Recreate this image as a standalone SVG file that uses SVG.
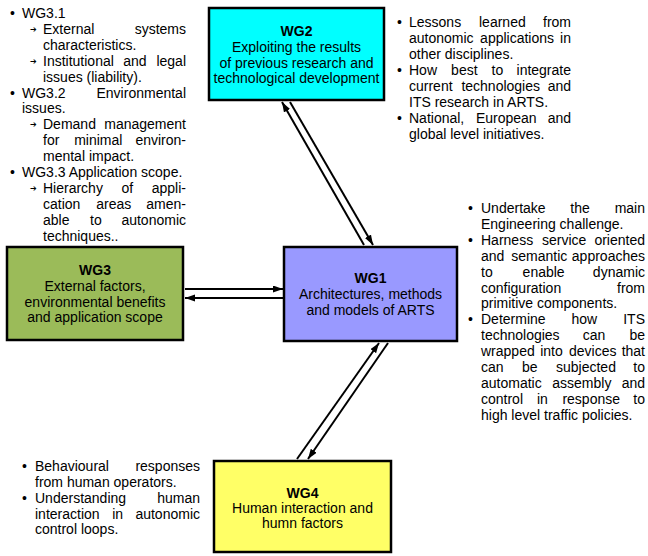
<svg xmlns="http://www.w3.org/2000/svg" width="648" height="556" viewBox="0 0 648 556">
<style>
text{font-family:"Liberation Sans",Arial,sans-serif;font-size:14px;fill:#000}
.r{text-anchor:end}
.c{text-anchor:middle}
.bd{font-weight:bold}
.ar{font-family:"DejaVu Sans",sans-serif;font-size:8px}
.box{stroke:#000;stroke-width:2.5}
.ln{stroke:#000;stroke-width:2;fill:none;marker-end:url(#ah)}
</style>
<defs>
<marker id="ah" markerUnits="userSpaceOnUse" markerWidth="11" markerHeight="8" refX="10" refY="3.5" orient="auto">
<path d="M0,0 L10,3.5 L0,7 z" fill="#000"/>
</marker>
</defs>
<rect width="648" height="556" fill="#fff"/>

<g id="connectors">
<line class="ln" x1="185" y1="289" x2="283" y2="289"/>
<line class="ln" x1="283" y1="298" x2="185" y2="298"/>
<line class="ln" x1="364" y1="245" x2="282" y2="102"/>
<line class="ln" x1="290" y1="102" x2="373" y2="245"/>
<line class="ln" x1="297" y1="459" x2="379" y2="343"/>
<line class="ln" x1="388" y1="343" x2="308" y2="459"/>
</g>

<g id="wg2">
<rect class="box" x="209" y="8" width="175" height="92" fill="#00FFFF"/>
<text class="c bd" x="296.5" y="36">WG2</text>
<text class="c" x="296.5" y="52">Exploiting the results</text>
<text class="c" x="296.5" y="67.5">of previous research and</text>
<text class="c" x="296.5" y="83">technological development</text>
</g>

<g id="wg1">
<rect class="box" x="284" y="247" width="173" height="94" fill="#9999FF"/>
<text class="c bd" x="370.5" y="282.5">WG1</text>
<text class="c" x="370.5" y="298.5">Architectures, methods</text>
<text class="c" x="370.5" y="314.5">and models of ARTS</text>
</g>

<g id="wg3">
<rect class="box" x="7" y="247" width="176" height="93" fill="#9BBB59"/>
<text class="c bd" x="95" y="275">WG3</text>
<text class="c" x="95" y="291">External factors,</text>
<text class="c" x="95" y="306.5">environmental benefits</text>
<text class="c" x="95" y="322">and application scope</text>
</g>

<g id="wg4">
<rect class="box" x="214" y="461" width="177" height="91" fill="#FFFF66"/>
<text class="c bd" x="302.5" y="498">WG4</text>
<text class="c" x="302.5" y="513">Human interaction and</text>
<text class="c" x="302.5" y="528">humn factors</text>
</g>

<g id="notes-wg3">
<text x="10" y="18">•</text><text x="22" y="18">WG3.1</text>
<text class="ar" x="30" y="32">➔</text><text x="43" y="33.9">External</text><text class="r" x="186" y="33.9">systems</text>
<text x="43" y="49.8">characteristics.</text>
<text class="ar" x="30" y="63.8">➔</text><text x="43" y="65.7">Institutional</text><text x="123.3" y="65.7">and</text><text class="r" x="186" y="65.7">legal</text>
<text x="43" y="81.6">issues (liability).</text>
<text x="10" y="97.5">•</text><text x="22" y="97.5">WG3.2</text><text class="r" x="186" y="97.5">Environmental</text>
<text x="22" y="113.4">issues.</text>
<text class="ar" x="30" y="127.4">➔</text><text x="43" y="129.3">Demand</text><text class="r" x="186" y="129.3">management</text>
<text x="43" y="145.2">for</text><text x="74.2" y="145.2">minimal</text><text class="r" x="186" y="145.2">environ-</text>
<text x="43" y="161.1">mental impact.</text>
<text x="10" y="177">•</text><text x="22" y="177">WG3.3 Application scope.</text>
<text class="ar" x="30" y="191">➔</text><text x="43" y="192.9">Hierarchy</text><text x="121.4" y="192.9">of</text><text class="r" x="186" y="192.9">appli-</text>
<text x="43" y="208.8">cation</text><text x="96.3" y="208.8">areas</text><text class="r" x="186" y="208.8">amen-</text>
<text x="43" y="224.7">able</text><text x="90.1" y="224.7">to</text><text class="r" x="186" y="224.7">autonomic</text>
<text x="43" y="240.6">techniques..</text>
</g>

<g id="notes-wg2">
<text x="397" y="27">•</text><text x="409" y="27">Lessons</text><text x="479" y="27">learned</text><text class="r" x="571" y="27">from</text>
<text x="409" y="43">autonomic</text><text x="480.1" y="43">applications</text><text class="r" x="571" y="43">in</text>
<text x="409" y="59">other disciplines.</text>
<text x="397" y="75">•</text><text x="409" y="75">How</text><text x="451.1" y="75">best</text><text x="491.6" y="75">to</text><text class="r" x="571" y="75">integrate</text>
<text x="409" y="91">current</text><text x="461.4" y="91">technologies</text><text class="r" x="571" y="91">and</text>
<text x="409" y="107">ITS research in ARTS.</text>
<text x="397" y="123">•</text><text x="409" y="123">National,</text><text x="475.9" y="123">European</text><text class="r" x="571" y="123">and</text>
<text x="409" y="139">global level initiatives.</text>
</g>

<g id="notes-wg1">
<text x="468" y="213">•</text><text x="481" y="213">Undertake</text><text x="570.3" y="213">the</text><text class="r" x="645" y="213">main</text>
<text x="481" y="228.9">Engineering challenge.</text>
<text x="468" y="244.8">•</text><text x="481" y="244.8">Harness</text><text x="542" y="244.8">service</text><text class="r" x="645" y="244.8">oriented</text>
<text x="481" y="260.7">and</text><text x="511.3" y="260.7">semantic</text><text class="r" x="645" y="260.7">approaches</text>
<text x="481" y="276.6">to</text><text x="522.6" y="276.6">enable</text><text class="r" x="645" y="276.6">dynamic</text>
<text x="481" y="292.5">configuration</text><text class="r" x="645" y="292.5">from</text>
<text x="481" y="308.4">primitive components.</text>
<text x="468" y="324.3">•</text><text x="481" y="324.3">Determine</text><text x="571.4" y="324.3">how</text><text class="r" x="645" y="324.3">ITS</text>
<text x="481" y="340.2">technologies</text><text x="582.8" y="340.2">can</text><text class="r" x="645" y="340.2">be</text>
<text x="481" y="356.1">wrapped</text><text x="540.2" y="356.1">into</text><text x="569" y="356.1">devices</text><text class="r" x="645" y="356.1">that</text>
<text x="481" y="372">can</text><text x="522" y="372">be</text><text x="556" y="372">subjected</text><text class="r" x="645" y="372">to</text>
<text x="481" y="387.9">automatic</text><text x="552.3" y="387.9">assembly</text><text class="r" x="645" y="387.9">and</text>
<text x="481" y="403.8">control</text><text x="536.9" y="403.8">in</text><text x="562.4" y="403.8">response</text><text class="r" x="645" y="403.8">to</text>
<text x="481" y="419.7">high level traffic policies.</text>
</g>

<g id="notes-wg4">
<text x="22" y="471">•</text><text x="35" y="471">Behavioural</text><text class="r" x="200" y="471">responses</text>
<text x="35" y="487">from human operators.</text>
<text x="22" y="503">•</text><text x="35" y="503">Understanding</text><text class="r" x="200" y="503">human</text>
<text x="35" y="518.5">interaction</text><text x="112.2" y="518.5">in</text><text class="r" x="200" y="518.5">autonomic</text>
<text x="35" y="534">control loops.</text>
</g>
</svg>
